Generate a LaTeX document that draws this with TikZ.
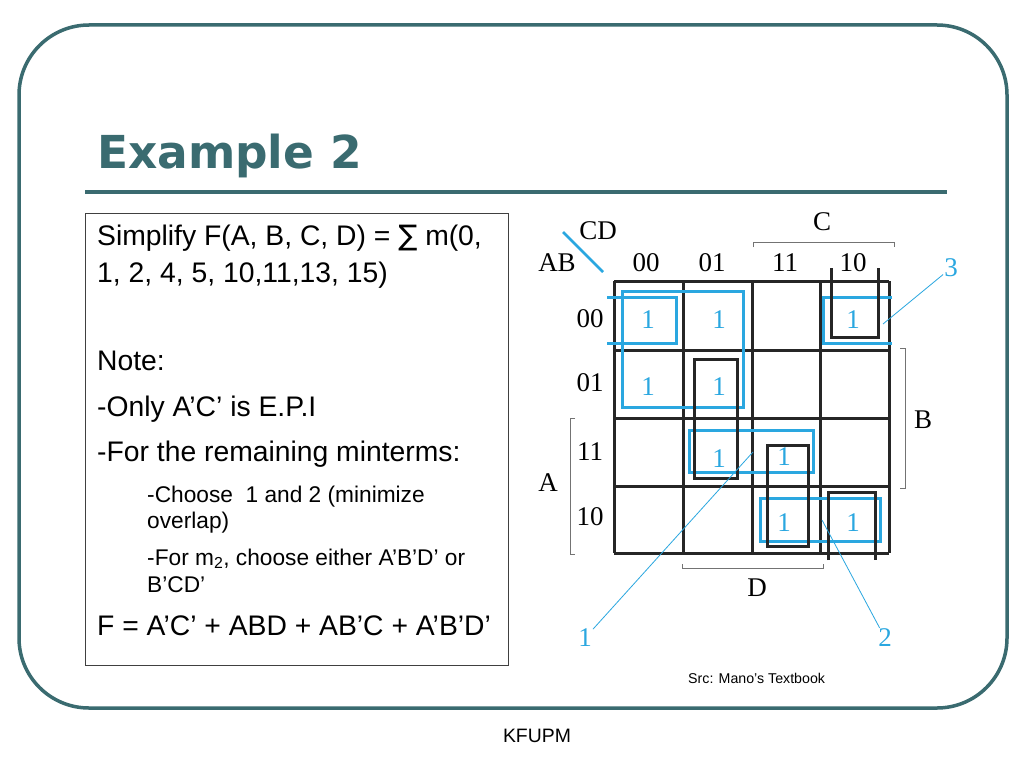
\documentclass[tikz,border=0pt]{standalone}
\usepackage{fontspec}
\setmainfont{Liberation Sans}
\newfontfamily\kfont{Liberation Serif}
\newfontfamily\tfont{DejaVu Sans}
\definecolor{teal1}{HTML}{3A6B70}
\definecolor{kblue}{HTML}{2AA7E0}
\begin{document}
\begin{tikzpicture}[x=1pt,y=-1pt,
  bigtxt/.style={anchor=base west,inner sep=0pt,font=\fontsize{28.3}{33}\selectfont},
  smalltxt/.style={anchor=base west,inner sep=0pt,font=\fontsize{22.7}{27}\selectfont},
  klbl/.style={inner sep=1pt,font=\kfont\fontsize{27}{30}\selectfont},
  one/.style={inner sep=0pt,text=kblue,font=\kfont\fontsize{27}{30}\selectfont},
  bloop/.style={draw=kblue,line width=3pt},
  kloop/.style={draw=black!85,line width=3pt},
  brk/.style={draw=black!55,line width=1pt},
  leader/.style={draw=kblue,line width=0.8pt},
  nlbl/.style={inner sep=1pt,text=kblue,font=\kfont\fontsize{27}{30}\selectfont}]
\useasboundingbox (0,0) rectangle (1024,768);
\fill[white] (0,0) rectangle (1024,768);
% frame
\draw[teal1,line width=3.5pt,rounded corners=70pt] (19,25) rectangle (1007,708);
\node[anchor=base west,inner sep=0pt,text=teal1,font=\tfont\bfseries\fontsize{45.4}{50}\selectfont] (title) at (97,168) {Example 2};
\draw[teal1,line width=4pt] (85,192) -- (947,192);
% text box
\node[draw=black!75,line width=1pt,minimum width=423pt,minimum height=452pt,anchor=north west,inner sep=0pt] (box) at (85,213) {};
\node[bigtxt] (t1) at (97,245) {Simplify F(A, B, C, D) = \tfont ∑\rmfamily\ m(0,};
\node[bigtxt] (t2) at (97,282) {1, 2, 4, 5, 10,11,13, 15)};
\node[bigtxt] (t3) at (97,370) {Note:};
\node[bigtxt] (t4) at (97,416) {-Only A’C’ is E.P.I};
\node[bigtxt] (t5) at (97,461) {-For the remaining minterms:};
\node[smalltxt] (t6) at (147,502) {-Choose\ \ 1 and 2 (minimize};
\node[smalltxt] (t7) at (147,528) {overlap)};
\node[smalltxt] (t8) at (147,565) {-For m\textsubscript{2}, choose either A’B’D’ or};
\node[smalltxt] (t9) at (147,592) {B’CD’};
\node[bigtxt] (t10) at (97,635) {F = A’C’ + ABD + AB’C + A’B’D’};
% K-map grid
\foreach \x in {614,683,752,820,889} \draw[black!85,line width=3pt] (\x,281) -- (\x,553);
\foreach \y in {281,350,418,486,553} \draw[black!85,line width=3pt] (614,\y) -- (889,\y);
% labels
\draw[kblue,line width=2.5pt] (563,232) -- (603,272);
\node[klbl] (cd) at (598,231) {CD};
\node[klbl] (ab) at (557,263) {AB};
\node[klbl] (c00) at (646,263) {00};
\node[klbl] (c01) at (712,263) {01};
\node[klbl] (c11) at (785,263) {11};
\node[klbl] (c10) at (853,263) {10};
\node[klbl] (r00) at (590,319) {00};
\node[klbl] (r01) at (590,383) {01};
\node[klbl] (r11) at (590,452) {11};
\node[klbl] (r10) at (590,517) {10};
% brackets
\draw[brk] (753,247) -- (753,242) -- (894,242) -- (894,247);
\node[klbl] (lc) at (822,222) {C};
\draw[brk] (900,348) -- (905,348) -- (905,488) -- (900,488);
\node[klbl] (lb) at (923,420) {B};
\draw[brk] (575,418) -- (570,418) -- (570,554) -- (575,554);
\node[klbl] (la) at (548,483) {A};
\draw[brk] (682,564) -- (682,568) -- (823,568) -- (823,564);
\node[klbl] (ld) at (757,588) {D};
% ones
\node[one] (m0) at (648,320) {1};
\node[one] (m1) at (719,320) {1};
\node[one] (m2) at (853,320) {1};
\node[one] (m4) at (648,387) {1};
\node[one] (m5) at (719,387) {1};
\node[one] (m13) at (719,459) {1};
\node[one] (m15) at (784,457) {1};
\node[one] (m11) at (784,523) {1};
\node[one] (m10) at (853,523) {1};
% blue loops
\draw[bloop] (622,291) rectangle (743,407);
\draw[bloop] (607,297) -- (676,297) -- (676,343) -- (607,343);
\draw[bloop] (892,297) -- (823,297) -- (823,343) -- (892,343);
\draw[bloop] (689,430) rectangle (813,472);
\draw[bloop] (760,498) rectangle (880,541);
% black loops
\draw[kloop] (694,359) rectangle (737,478);
\draw[kloop] (767,445) rectangle (808,546);
\draw[kloop] (831,268) -- (831,337) -- (878,337) -- (878,268);
\draw[kloop] (828,560) -- (828,492) -- (875,492) -- (875,560);
% leaders
\coordinate (p1) at (753,452);
\coordinate (p2) at (822,520);
\coordinate (p3) at (883,324);
\node[nlbl] (n1) at (585,638) {1};
\node[nlbl] (n2) at (885,638) {2};
\node[nlbl] (n3) at (951,268) {3};
\draw[leader] (p1) -- (n1);
\draw[leader] (p2) -- (n2);
\draw[leader] (p3) -- (n3);
% footer
\node[anchor=base west,inner sep=0pt,font=\fontsize{14.2}{17}\selectfont] (src) at (688,683) {Src: Mano’s Textbook};
\node[anchor=base,inner sep=0pt,font=\fontsize{19.4}{23}\selectfont] (kf) at (537,742) {KFUPM};
\end{tikzpicture}
\end{document}
